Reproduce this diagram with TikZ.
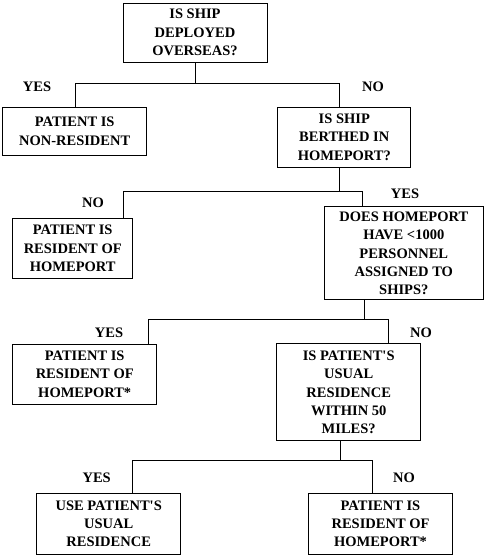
\documentclass[tikz,border=0pt]{standalone}
\usepackage{fontspec}
\setmainfont{Liberation Serif}
\usepackage{tikz}
\usetikzlibrary{positioning,calc}

\begin{document}
\begin{tikzpicture}[x=1pt, y=-1pt,
    every node/.style={font=\fontsize{14.5}{18.3}\selectfont\bfseries},
    box/.style={draw, line width=1pt, align=center, inner sep=0pt},
    lbl/.style={inner sep=0pt},
    link/.style={line width=1pt}]
    \useasboundingbox (0,0) rectangle (486,557);

    % Question boxes
    \node[box, minimum width=144pt, minimum height=59pt] (deployed) at (195,32.5)
        {IS SHIP\\DEPLOYED\\OVERSEAS?};
    \node[box, minimum width=132.7pt, minimum height=60.3pt] (berthed) at (344.3,137.2)
        {IS SHIP\\BERTHED IN\\HOMEPORT?};
    \node[box, minimum width=159pt, minimum height=93.3pt] (small) at (403.8,253.3)
        {DOES HOMEPORT\\HAVE <1000\\PERSONNEL\\ASSIGNED TO\\SHIPS?};
    \node[box, minimum width=144pt, minimum height=96.7pt] (within) at (348.7,392.3)
        {IS PATIENT\textquotesingle S\\USUAL\\RESIDENCE\\WITHIN 50\\MILES?};

    % Outcome boxes
    \node[box, minimum width=144pt, minimum height=48.3pt] (nonres) at (74.7,131.2)
        {PATIENT IS\\NON-RESIDENT};
    \node[box, minimum width=120pt, minimum height=60.4pt] (reshome) at (72.7,248.5)
        {PATIENT IS\\RESIDENT OF\\HOMEPORT};
    \node[box, minimum width=144pt, minimum height=60.3pt] (reshomeA) at (84.7,374.2)
        {PATIENT IS\\RESIDENT OF\\HOMEPORT*};
    \node[box, minimum width=144pt, minimum height=60.7pt] (usual) at (108.7,523.7)
        {USE PATIENT\textquotesingle S\\USUAL\\RESIDENCE};
    \node[box, minimum width=144.4pt, minimum height=60.7pt] (reshomeB) at (380.5,523.7)
        {PATIENT IS\\RESIDENT OF\\HOMEPORT*};

    % Branch bars
    \coordinate (barAl) at (75,83);    \coordinate (barAr) at (339,83);
    \coordinate (barBl) at (123,191.7); \coordinate (barBr) at (362.7,191.7);
    \coordinate (barCl) at (148,319.3); \coordinate (barCr) at (388.3,319.3);
    \coordinate (barDl) at (132.7,460); \coordinate (barDr) at (372.7,460);

    % Connectors
    \draw[link] (deployed.south) -- (deployed.south |- barAl);
    \draw[link] (nonres.north -| barAl) -- (barAl) -- (barAr) -- (berthed.north -| barAr);

    \draw[link] (berthed.south -| barAr) -- (barAr |- barBl);
    \draw[link] (reshome.north -| barBl) -- (barBl) -- (barBr) -- (small.north -| barBr);

    \draw[link] ($(small.south)+(-39,0)$) coordinate (stemC) -- (stemC |- barCl);
    \draw[link] (reshomeA.north -| barCl) -- (barCl) -- (barCr) -- (within.north -| barCr);

    \draw[link] ($(within.south)+(-8,0)$) coordinate (stemD) -- (stemD |- barDl);
    \draw[link] (usual.north -| barDl) -- (barDl) -- (barDr) -- (reshomeB.north -| barDr);

    % Branch labels
    \node[lbl] (yesA) at (37,87) {YES};
    \node[lbl] (noA) at (373,87) {NO};
    \node[lbl] (noB) at (93,202.7) {NO};
    \node[lbl] (yesB) at (405,194) {YES};
    \node[lbl] (yesC) at (109,332.7) {YES};
    \node[lbl] (noC) at (421,332.7) {NO};
    \node[lbl] (yesD) at (96.7,477.3) {YES};
    \node[lbl] (noD) at (404,477.3) {NO};
\end{tikzpicture}
\end{document}
